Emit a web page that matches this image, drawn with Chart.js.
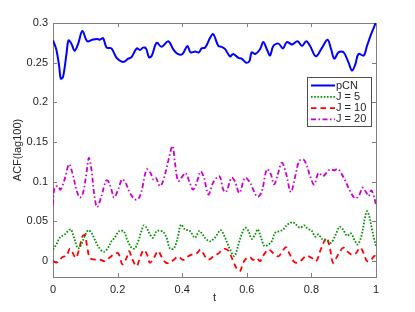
<!DOCTYPE html>
<html>
<head>
<meta charset="utf-8">
<script src="https://cdn.jsdelivr.net/npm/chart.js@4/dist/chart.umd.min.js"></script>
<style>
  html, body { margin: 0; padding: 0; background: #fff; }
  #wrap { width: 415px; height: 312px; }
</style>
</head>
<body>
<div id="wrap"><canvas id="acfChart" width="415" height="312"></canvas></div>
<script>
/* ===== data ===== */
const xTicks = [0, 0.2, 0.4, 0.6, 0.8, 1];
const yTicks = [0, 0.05, 0.1, 0.15, 0.2, 0.25, 0.3];

const pcnT = [0, 0.01, 0.019, 0.024, 0.031, 0.042, 0.048, 0.057, 0.067, 0.078, 0.091, 0.106, 0.122, 0.135, 0.145, 0.155, 0.166, 0.181, 0.197, 0.217, 0.233, 0.243, 0.259, 0.269, 0.279, 0.288, 0.297, 0.305, 0.321, 0.336, 0.357, 0.372, 0.386, 0.401, 0.416, 0.426, 0.44, 0.452, 0.46, 0.471, 0.486, 0.496, 0.512, 0.522, 0.533, 0.548, 0.558, 0.574, 0.584, 0.598, 0.608, 0.615, 0.626, 0.641, 0.651, 0.662, 0.672, 0.682, 0.698, 0.712, 0.724, 0.74, 0.757, 0.771, 0.784, 0.796, 0.814, 0.833, 0.85, 0.861, 0.871, 0.884, 0.9, 0.915, 0.926, 0.936, 0.946, 0.962, 0.972, 0.985, 1.0];
const pcnAcf = [0.278, 0.267, 0.246, 0.230, 0.232, 0.262, 0.278, 0.274, 0.265, 0.274, 0.290, 0.277, 0.279, 0.280, 0.279, 0.281, 0.269, 0.268, 0.256, 0.251, 0.255, 0.257, 0.268, 0.266, 0.269, 0.268, 0.257, 0.258, 0.275, 0.270, 0.277, 0.267, 0.261, 0.261, 0.271, 0.263, 0.264, 0.263, 0.268, 0.269, 0.281, 0.286, 0.271, 0.270, 0.267, 0.258, 0.261, 0.256, 0.255, 0.250, 0.252, 0.263, 0.261, 0.267, 0.276, 0.267, 0.259, 0.271, 0.274, 0.268, 0.276, 0.273, 0.277, 0.271, 0.277, 0.271, 0.258, 0.269, 0.279, 0.267, 0.255, 0.263, 0.263, 0.250, 0.240, 0.248, 0.261, 0.259, 0.271, 0.286, 0.301];

const j5T = [0, 0.0105, 0.021, 0.036, 0.0465, 0.055, 0.062, 0.070, 0.0775, 0.088, 0.096, 0.1086, 0.119, 0.129, 0.1427, 0.158, 0.1706, 0.181, 0.191, 0.2047, 0.219, 0.2295, 0.243, 0.2534, 0.2637, 0.274, 0.281, 0.290, 0.300, 0.310, 0.3207, 0.333, 0.341, 0.3517, 0.362, 0.3744, 0.386, 0.396, 0.4085, 0.424, 0.4395, 0.453, 0.463, 0.476, 0.486, 0.5016, 0.519, 0.5326, 0.548, 0.5614, 0.574, 0.584, 0.5946, 0.605, 0.6154, 0.6256, 0.634, 0.644, 0.6545, 0.667, 0.6774, 0.6877, 0.703, 0.7134, 0.7258, 0.7426, 0.755, 0.765, 0.7776, 0.788, 0.8015, 0.8117, 0.822, 0.8325, 0.846, 0.860, 0.8737, 0.887, 0.8976, 0.910, 0.922, 0.9327, 0.943, 0.9544, 0.9668, 0.972, 0.979, 0.9876, 0.9947, 1.0];
const j5Acf = [0.0147, 0.021, 0.0295, 0.0336, 0.0378, 0.040, 0.0336, 0.023, 0.016, 0.021, 0.0295, 0.0387, 0.0358, 0.0273, 0.0169, 0.0118, 0.0169, 0.025, 0.0295, 0.0378, 0.0375, 0.027, 0.017, 0.016, 0.025, 0.038, 0.045, 0.042, 0.0336, 0.0295, 0.0378, 0.038, 0.037, 0.0295, 0.016, 0.016, 0.0295, 0.046, 0.040, 0.038, 0.0295, 0.038, 0.0336, 0.027, 0.025, 0.0295, 0.039, 0.0295, 0.0147, 0.0063, 0.021, 0.0336, 0.042, 0.038, 0.028, 0.0336, 0.040, 0.0295, 0.019, 0.021, 0.025, 0.0358, 0.0378, 0.040, 0.046, 0.049, 0.045, 0.042, 0.045, 0.041, 0.038, 0.031, 0.0336, 0.028, 0.026, 0.023, 0.032, 0.043, 0.040, 0.032, 0.035, 0.027, 0.021, 0.031, 0.0567, 0.063, 0.0567, 0.040, 0.027, 0.019];

const j10T = [0, 0.0105, 0.0186, 0.031, 0.0416, 0.052, 0.060, 0.0704, 0.0806, 0.091, 0.0983, 0.1055, 0.114, 0.129, 0.145, 0.160, 0.1737, 0.189, 0.2016, 0.215, 0.2277, 0.2357, 0.246, 0.2587, 0.269, 0.281, 0.2916, 0.300, 0.312, 0.3257, 0.336, 0.3496, 0.362, 0.372, 0.3877, 0.403, 0.4156, 0.429, 0.445, 0.457, 0.465, 0.476, 0.486, 0.496, 0.512, 0.522, 0.5326, 0.543, 0.558, 0.569, 0.579, 0.589, 0.600, 0.610, 0.620, 0.631, 0.641, 0.6535, 0.667, 0.682, 0.698, 0.7084, 0.721, 0.729, 0.7444, 0.755, 0.770, 0.784, 0.8015, 0.815, 0.827, 0.8396, 0.848, 0.858, 0.8666, 0.877, 0.889, 0.8995, 0.910, 0.9256, 0.938, 0.951, 0.9615, 0.972, 0.9845, 0.9947, 1.0];
const j10Acf = [0.000, -0.002, 0.001, 0.0055, 0.0065, 0.0156, 0.0113, 0.004, 0.0146, 0.031, 0.033, 0.019, 0.004, 0.002, 0.002, 0.000, 0.004, 0.0084, 0.010, -0.004, 0.004, 0.0126, 0.002, -0.0063, 0.004, 0.014, 0.008, -0.002, 0.004, 0.0126, 0.0055, -0.002, -0.002, 0.001, 0.0055, 0.0015, 0.0055, 0.0082, 0.010, 0.0147, 0.010, 0.003, 0.0025, 0.006, 0.0095, 0.0135, 0.0155, 0.013, 0.000, -0.0096, -0.0126, -0.002, 0.004, 0.005, 0.0015, 0.004, 0.000, 0.0085, 0.0147, 0.010, 0.006, 0.0113, 0.0177, 0.012, 0.000, -0.002, 0.0015, 0.0065, 0.004, 0.000, 0.0126, 0.025, 0.0295, 0.0147, -0.002, 0.004, 0.0126, 0.017, 0.0126, 0.008, 0.010, 0.017, 0.010, 0.000, 0.0015, 0.0065, 0.0065];

const j20T = [0, 0.005, 0.0155, 0.023, 0.036, 0.0496, 0.060, 0.0726, 0.083, 0.093, 0.1036, 0.111, 0.119, 0.127, 0.1365, 0.150, 0.1635, 0.1706, 0.181, 0.189, 0.2016, 0.214, 0.2255, 0.238, 0.2534, 0.2637, 0.274, 0.290, 0.302, 0.310, 0.3185, 0.331, 0.341, 0.3567, 0.370, 0.3775, 0.3877, 0.401, 0.4107, 0.424, 0.434, 0.4467, 0.457, 0.4675, 0.481, 0.496, 0.515, 0.527, 0.5357, 0.553, 0.5636, 0.577, 0.5946, 0.610, 0.620, 0.633, 0.646, 0.662, 0.674, 0.6845, 0.695, 0.7084, 0.7218, 0.7363, 0.750, 0.762, 0.7754, 0.786, 0.796, 0.8086, 0.822, 0.8356, 0.846, 0.858, 0.8707, 0.881, 0.889, 0.905, 0.920, 0.9358, 0.949, 0.958, 0.969, 0.977, 0.9855, 0.9926, 1.0];
const j20Acf = [0.071, 0.0925, 0.0945, 0.090, 0.103, 0.122, 0.111, 0.090, 0.080, 0.086, 0.111, 0.130, 0.1155, 0.086, 0.068, 0.082, 0.101, 0.101, 0.090, 0.080, 0.090, 0.103, 0.098, 0.086, 0.078, 0.078, 0.088, 0.1155, 0.111, 0.103, 0.105, 0.0945, 0.101, 0.126, 0.145, 0.124, 0.101, 0.107, 0.111, 0.098, 0.090, 0.101, 0.113, 0.105, 0.084, 0.099, 0.107, 0.090, 0.087, 0.105, 0.100, 0.086, 0.105, 0.099, 0.090, 0.081, 0.087, 0.1155, 0.110, 0.0966, 0.108, 0.124, 0.110, 0.087, 0.107, 0.126, 0.128, 0.120, 0.107, 0.0966, 0.111, 0.107, 0.111, 0.1155, 0.1145, 0.116, 0.113, 0.101, 0.088, 0.079, 0.084, 0.0925, 0.087, 0.082, 0.089, 0.083, 0.071];

const toPoints = (ts, vs) => ts.map((t, i) => ({ x: t, y: vs[i] }));

const FONT = 'Helvetica, "Liberation Sans", Arial, sans-serif';
const AXIS_COLOR = '#7f7f7f';
const TEXT_COLOR = '#262626';

// MATLAB-style box with inward ticks on all four sides
const boxPlugin = {
  id: 'matlabBox',
  beforeDatasetsDraw(chart) {
    const { ctx, chartArea: a, scales } = chart;
    const len = 4;
    ctx.save();
    ctx.strokeStyle = AXIS_COLOR;
    ctx.lineWidth = 1;
    ctx.beginPath();
    xTicks.forEach(v => {
      const x = Math.round(scales.x.getPixelForValue(v)) + 0.5;
      ctx.moveTo(x, a.bottom); ctx.lineTo(x, a.bottom - len);
      ctx.moveTo(x, a.top); ctx.lineTo(x, a.top + len);
    });
    yTicks.forEach(v => {
      const y = Math.round(scales.y.getPixelForValue(v)) + 0.5;
      ctx.moveTo(a.left, y); ctx.lineTo(a.left + len, y);
      ctx.moveTo(a.right, y); ctx.lineTo(a.right - len, y);
    });
    ctx.stroke();
    ctx.strokeRect(Math.round(a.left) + 0.5, Math.round(a.top) + 0.5,
      Math.round(a.right - a.left), Math.round(a.bottom - a.top));
    ctx.restore();
  },
  afterDraw(chart) {
    // legend box inside the axes (north-east, below the top curve)
    const { ctx } = chart;
    const bx = 307.5, by = 77.5, bw = 64, bh = 49;
    ctx.save();
    ctx.fillStyle = '#fff';
    ctx.fillRect(bx, by, bw, bh);
    ctx.strokeStyle = '#4d4d4d';
    ctx.lineWidth = 1;
    ctx.strokeRect(bx, by, bw, bh);
    ctx.font = '11px ' + FONT;
    ctx.textBaseline = 'middle';
    ctx.fillStyle = TEXT_COLOR;
    chart.data.datasets.forEach((ds, i) => {
      const y = 85.5 + i * 11.3;
      ctx.beginPath();
      ctx.strokeStyle = ds.borderColor;
      ctx.lineWidth = ds.borderWidth;
      ctx.setLineDash(ds.borderDash || []);
      ctx.moveTo(311, y); ctx.lineTo(335, y);
      ctx.stroke();
      ctx.setLineDash([]);
      ctx.fillText(ds.label, 336, y);
    });
    ctx.restore();
  }
};

new Chart(document.getElementById('acfChart'), {
  type: 'line',
  data: {
    datasets: [
      { label: 'pCN', data: toPoints(pcnT, pcnAcf), borderColor: '#0000ff', borderWidth: 2 },
      { label: 'J = 5', data: toPoints(j5T, j5Acf), borderColor: '#009000', borderWidth: 1.8, borderDash: [1.6, 1.6] },
      { label: 'J = 10', data: toPoints(j10T, j10Acf), borderColor: '#ff0000', borderWidth: 1.8, borderDash: [5.5, 4] },
      { label: 'J = 20', data: toPoints(j20T, j20Acf), borderColor: '#cc00cc', borderWidth: 1.8, borderDash: [5, 2.5, 1.5, 2.5] }
    ]
  },
  options: {
    responsive: false,
    animation: false,
    layout: { padding: { left: 0, right: 39, top: 23, bottom: 0 } },
    elements: {
      point: { radius: 0 },
      line: { tension: 0.35, fill: false, borderCapStyle: 'butt' }
    },
    plugins: { legend: { display: false }, tooltip: { enabled: false } },
    scales: {
      x: {
        type: 'linear',
        min: 0,
        max: 1,
        afterFit: s => { s.height = 35; },
        afterBuildTicks: s => { s.ticks = xTicks.map(v => ({ value: v })); },
        grid: { display: false, drawTicks: false },
        border: { display: false },
        ticks: {
          padding: 6,
          color: TEXT_COLOR,
          font: { family: FONT, size: 11 },
          maxRotation: 0,
          callback: v => String(v)
        },
        title: {
          display: true,
          text: 't',
          color: TEXT_COLOR,
          font: { family: FONT, size: 11 },
          padding: { top: 0, bottom: 7 }
        }
      },
      y: {
        min: -0.02,
        max: 0.3,
        afterFit: s => { s.width = 53; },
        afterBuildTicks: s => { s.ticks = yTicks.map(v => ({ value: v })); },
        grid: { display: false, drawTicks: false },
        border: { display: false },
        ticks: {
          padding: 5,
          color: TEXT_COLOR,
          font: { family: FONT, size: 11 },
          callback: v => String(v)
        },
        title: {
          display: true,
          text: 'ACF(lag100)',
          color: TEXT_COLOR,
          font: { family: FONT, size: 11 },
          padding: { top: 11, bottom: 0 }
        }
      }
    }
  },
  plugins: [boxPlugin]
});
</script>
</body>
</html>
